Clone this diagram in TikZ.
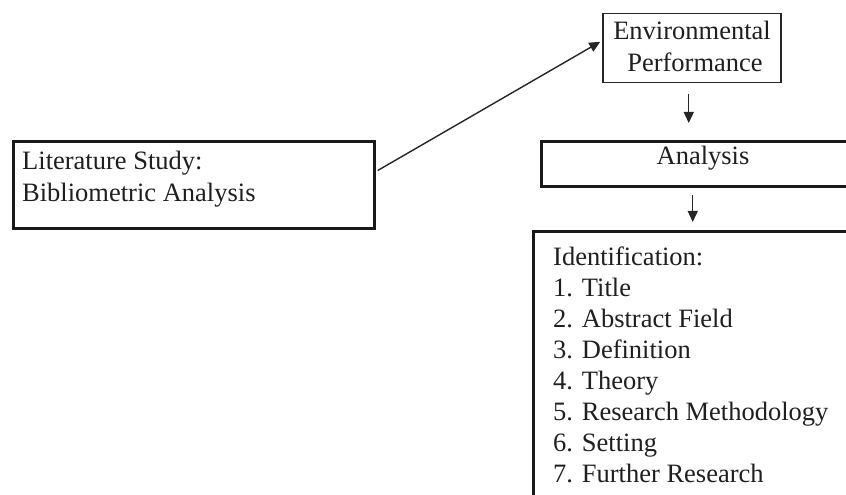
\documentclass[tikz,border=0pt]{standalone}
\usepackage{fontspec}
\setmainfont{Liberation Serif}
\usetikzlibrary{arrows.meta}
\begin{document}
\begin{tikzpicture}[x=1pt,y=1pt,
  box/.style={draw=black!90,line width=2.6pt,anchor=north west,inner sep=0pt},
  thinbox/.style={draw=black!85,line width=1.5pt,anchor=north west,inner sep=0pt},
  lbl/.style={font=\fontsize{26.5}{31}\selectfont,text=black!88,inner sep=0pt,anchor=base west},
  clbl/.style={font=\fontsize{26.5}{31}\selectfont,text=black!88,inner sep=0pt,anchor=base},
  arr/.style={draw=black!85,line width=1.4pt,-{Triangle[length=11pt,width=10pt]}}]
\useasboundingbox (0,0) rectangle (846,495);
\clip (0,0) rectangle (846,495);
% boxes
\node[box,line width=3pt,minimum width=361pt,minimum height=87pt] (lit) at (12,355) {};
\node[thinbox,minimum width=178pt,minimum height=69pt] (env) at (602,482) {};
\node[box,minimum width=330pt,minimum height=45pt] (ana) at (540,355) {};
\node[box,minimum width=330pt,minimum height=290pt] (ide) at (532,265) {};
% texts
\node[lbl] (lit1) at (22,325) {Literature Study:};
\node[lbl] (lit2) at (22,293) {Bibliometric Analysis};
\node[clbl] (env1) at (692,455) {Environmental};
\node[clbl] (env2) at (695,423) {Performance};
\node[clbl] (ana1) at (703,330) {Analysis};
\foreach \t [count=\i from 0] in {Identification:,1. Title,2. Abstract Field,3. Definition,4. Theory,5. Research Methodology,6. Setting,7. Further Research}
  \node[lbl] (id\i) at (553,229-31*\i) {\t};
% connectors
\draw[arr,shorten >=2pt,shorten <=2pt] ([yshift=13.5pt]lit.east) -- ([yshift=7.5pt]env.west);
\draw[arr,shorten <=11pt,shorten >=17pt] ([xshift=-3pt]env.south) -- ([xshift=-3pt]env.south |- ana.north);
\draw[arr,shorten <=7pt,shorten >=8pt] ([xshift=1pt]env.south |- ana.south) -- ([xshift=1pt]env.south |- ide.north);
\end{tikzpicture}
\end{document}
